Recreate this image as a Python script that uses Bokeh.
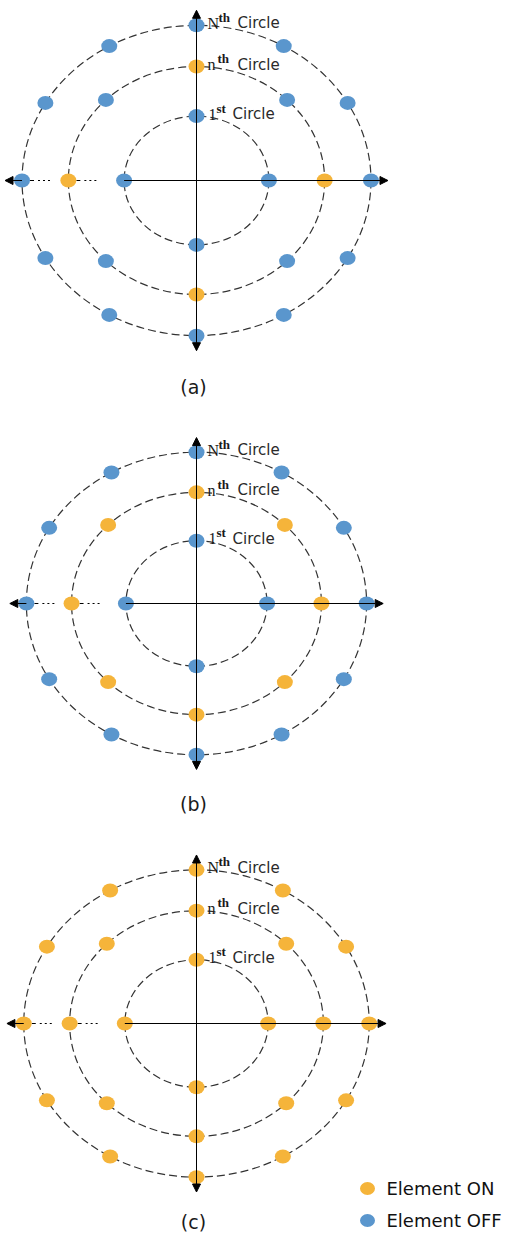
import math
from bokeh.plotting import figure
from bokeh.models import Range1d, Arrow, NormalHead
from bokeh.core.properties import value
from bokeh.embed import file_html
from bokeh.resources import INLINE

# ---------------- data ----------------
ring_base = ["1", "n", "N"]
ring_sup = ["st", "th", "th"]
ring_word = ["Circle", "Circle", "Circle"]
ring_radius = [1.0, 1.77, 2.41]          # relative radii of the three circles
elements_per_ring = [4, 8, 12]
panel_names = ["(a)", "(b)", "(c)"]
# element states per ring, starting at angle 0 and going counter-clockwise (1 = ON)
states_a = [[0, 0, 0, 0],
            [1, 0, 1, 0, 1, 0, 1, 0],
            [0, 0, 0, 0, 0, 0, 0, 0, 0, 0, 0, 0]]
states_b = [[0, 0, 0, 0],
            [1, 1, 1, 1, 1, 1, 1, 1],
            [0, 0, 0, 0, 0, 0, 0, 0, 0, 0, 0, 0]]
states_c = [[1, 1, 1, 1],
            [1, 1, 1, 1, 1, 1, 1, 1],
            [1, 1, 1, 1, 1, 1, 1, 1, 1, 1, 1, 1]]
legend_labels = ["Element ON", "Element OFF"]

# ---------------- style / layout ----------------
ON_COLOR = "#F5B43A"
OFF_COLOR = "#5A96CD"
UX, UY = 72.4, 64.4
panel_cx = [196, 196, 196]
panel_cy = [180, 603, 1023]
panel_scale = [1.0, 0.975, 0.99]
panel_label_y = [386, 803, 1221]
base_dx = [12, 11, 11]
sup_dx = [20, 21, 22]
word_dx = [36, 41, 41]

p = figure(width=508, height=1233, x_range=Range1d(0, 508), y_range=Range1d(1233, 0),
           output_backend="svg", toolbar_location=None, min_border=0)
p.axis.visible = False
p.grid.visible = False
p.outline_line_color = None
p.background_fill_color = "white"

all_states = [states_a, states_b, states_c]
for k in range(3):
    cx, cy, s = panel_cx[k], panel_cy[k], panel_scale[k]
    rx = [r * UX * s for r in ring_radius]
    ry = [r * UY * s for r in ring_radius]
    # dashed circles
    p.ellipse(x=[cx] * 3, y=[cy] * 3, width=[2 * v for v in rx], height=[2 * v for v in ry],
              fill_alpha=0, line_color="#333333", line_width=1.2, line_dash="8 4")
    ex = rx[2] + 17 * s
    ey = ry[2] + 15 * s
    head = dict(size=8, fill_color="black", line_color="black", line_width=1)
    p.add_layout(Arrow(start=NormalHead(**head), end=NormalHead(**head),
                       x_start=cx, y_start=cy + ey, x_end=cx, y_end=cy - ey,
                       line_color="black", line_width=1))
    p.add_layout(Arrow(end=NormalHead(**head), x_start=cx - rx[0], y_start=cy,
                       x_end=cx + ex, y_end=cy, line_color="black", line_width=1))
    p.add_layout(Arrow(end=NormalHead(**head), x_start=cx - rx[2], y_start=cy,
                       x_end=cx - ex, y_end=cy, line_color="black", line_width=1))
    # dotted left segments
    p.segment(x0=[cx - rx[2] + 8, cx - rx[1] + 8], y0=[cy, cy],
              x1=[cx - rx[1] - 8, cx - rx[0] - 8], y1=[cy, cy],
              line_color="black", line_width=1.2, line_dash="4 4 2 3 2 3 2 60")
    # elements
    xs, ys, cols = [], [], []
    for i in range(3):
        n = elements_per_ring[i]
        for j in range(n):
            a = 2 * math.pi * j / n
            xs.append(cx + rx[i] * math.cos(a))
            ys.append(cy - ry[i] * math.sin(a))
            cols.append(ON_COLOR if all_states[k][i][j] else OFF_COLOR)
    p.ellipse(x=xs, y=ys, width=16, height=14, width_units="screen", height_units="screen",
              fill_color=cols, line_color=None)
    # ring labels
    ty = [cy - v for v in ry]
    p.text(x=[cx + d for d in base_dx], y=[t - 2 for t in ty], text=ring_base,
           text_font=value("Liberation Serif"), text_font_size="16px",
           text_baseline="alphabetic", text_color="#1a1a1a")
    p.text(x=[cx + d for d in sup_dx], y=[t - 8 for t in ty], text=ring_sup,
           text_font=value("Liberation Serif"), text_font_size="13px", text_font_style="bold",
           text_baseline="alphabetic", text_color="#1a1a1a")
    p.text(x=[cx + d for d in word_dx], y=[t - 2 for t in ty], text=ring_word,
           text_font=value("DejaVu Sans"), text_font_size="15px",
           text_baseline="alphabetic", text_color="#2a2a2a")
    p.text(x=[cx - 3], y=[panel_label_y[k]], text=[panel_names[k]],
           text_font=value("DejaVu Sans"), text_font_size="19px",
           text_align="center", text_baseline="middle", text_color="#1a1a1a")

# legend
p.ellipse(x=[367, 367], y=[1188, 1220], width=15, height=13, width_units="screen",
          height_units="screen", fill_color=[ON_COLOR, OFF_COLOR], line_color=None)
p.text(x=[386, 386], y=[1188, 1220], text=legend_labels, text_font=value("DejaVu Sans"),
       text_font_size="18px", text_baseline="middle", text_color="#111111")

open("out.html", "w").write(file_html(p, INLINE))
